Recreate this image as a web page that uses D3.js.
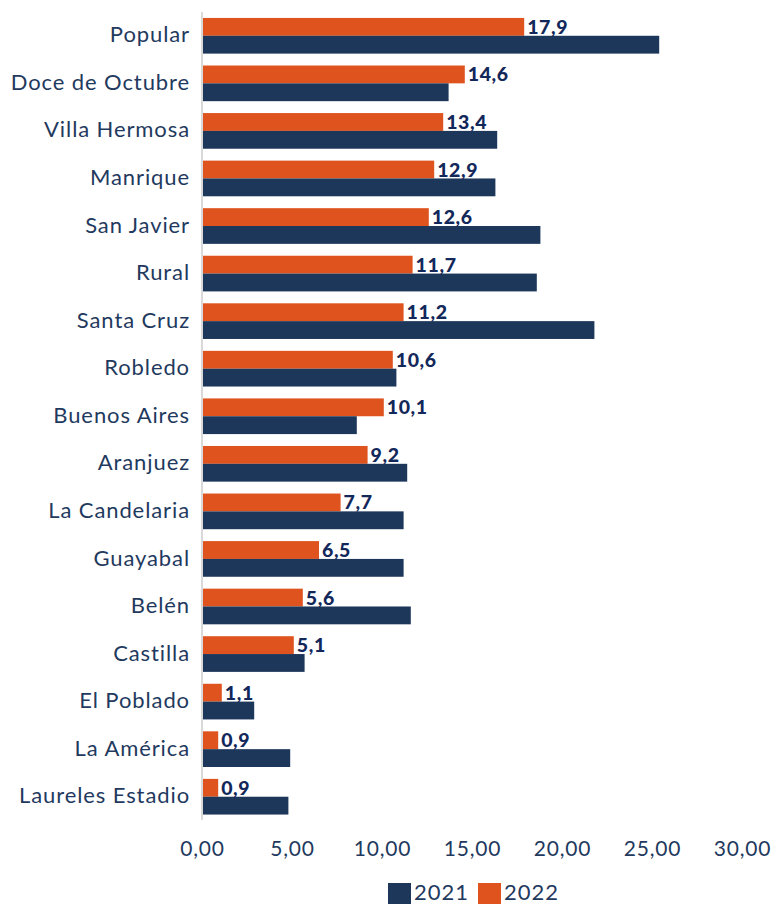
<!DOCTYPE html>
<html>
<head>
<meta charset="utf-8">
<script src="https://cdn.jsdelivr.net/npm/d3@7"></script>
<style>
  html, body { margin: 0; padding: 0; background: #fff; }
  svg { display: block; }
</style>
</head>
<body>
<svg id="chart" width="775" height="904"></svg>
<script>
const categories = ["Popular","Doce de Octubre","Villa Hermosa","Manrique","San Javier","Rural","Santa Cruz","Robledo","Buenos Aires","Aranjuez","La Candelaria","Guayabal","Belén","Castilla","El Poblado","La América","Laureles Estadio"];
const values2022 = [17.9,14.6,13.4,12.9,12.6,11.7,11.2,10.6,10.1,9.2,7.7,6.5,5.6,5.1,1.1,0.9,0.9];
const values2021 = [25.4,13.7,16.4,16.3,18.8,18.6,21.8,10.8,8.6,11.4,11.2,11.2,11.6,5.7,2.9,4.9,4.8];
const xTicks = [0,5,10,15,20,25,30];
const seriesNames = ["2021","2022"];

const colors = {"2021": "#1D375B", "2022": "#DF541E"};
const textColor = "#1F3A5E";
const labelColor = "#13285A";
const font = "Lato, 'Noto Sans', sans-serif";

const svg = d3.select("#chart");

const x = d3.scaleLinear().domain([0, 30]).range([202, 742]);
const y = d3.scaleBand().domain(categories).range([12, 820.5]).paddingInner(0.25).paddingOuter(0.125);
const sub = d3.scaleBand().domain(["2022","2021"]).range([0, y.bandwidth()]).padding(0);

const rows = categories.map((c, i) => ({cat: c, v2021: values2021[i], v2022: values2022[i]}));

// bars
const g = svg.append("g");
const rowG = g.selectAll("g.row").data(rows).join("g")
  .attr("class", "row")
  .attr("transform", d => `translate(0,${y(d.cat)})`);

rowG.append("rect")
  .attr("x", x(0))
  .attr("y", sub("2022"))
  .attr("width", d => x(d.v2022) - x(0))
  .attr("height", sub.bandwidth())
  .attr("fill", colors["2022"]);

rowG.append("rect")
  .attr("x", x(0))
  .attr("y", sub("2021"))
  .attr("width", d => x(d.v2021) - x(0))
  .attr("height", sub.bandwidth())
  .attr("fill", colors["2021"]);

// data labels for 2022
const fmt = d3.format(".1f");
rowG.append("text")
  .attr("x", d => x(d.v2022) + 3)
  .attr("y", sub("2022") + sub.bandwidth() / 2)
  .attr("dy", "0.36em")
  .attr("font-family", font)
  .attr("font-weight", 900)
  .attr("font-size", 19.5)
  .attr("letter-spacing", 0.6)
  .attr("fill", labelColor)
  .text(d => fmt(d.v2022).replace(".", ","));

// category labels
svg.append("g").selectAll("text").data(categories).join("text")
  .attr("x", 190)
  .attr("y", d => y(d) + y.bandwidth() / 2)
  .attr("dy", "0.3em")
  .attr("text-anchor", "end")
  .attr("font-family", font)
  .attr("font-size", 22)
  .attr("letter-spacing", 0.9)
  .attr("fill", textColor)
  .text(d => d);

// axis line (vertical at 0)
svg.append("line")
  .attr("x1", x(0)).attr("x2", x(0))
  .attr("y1", 12).attr("y2", 820)
  .attr("stroke", "#D9D9D9")
  .attr("stroke-width", 2);

// x axis
const xAxis = d3.axisBottom(x).tickValues(xTicks).tickSize(0).tickPadding(0)
  .tickFormat(d => d3.format(".2f")(d).replace(".", ","));
const ax = svg.append("g").attr("transform", "translate(0,841)").call(xAxis);
ax.select(".domain").remove();
ax.selectAll("text")
  .attr("font-family", font)
  .attr("font-size", 21)
  .attr("letter-spacing", 0.8)
  .attr("fill", textColor)
  .attr("dy", "0.71em");

// legend
const legend = svg.append("g");
const lx = {"2021": 388, "2022": 478};
seriesNames.forEach(s => {
  legend.append("rect")
    .attr("x", lx[s]).attr("y", 883)
    .attr("width", 23).attr("height", 23)
    .attr("fill", colors[s]);
  legend.append("text")
    .attr("x", lx[s] + 26).attr("y", 900)
    .attr("font-family", font)
    .attr("font-size", 22)
    .attr("letter-spacing", 1)
    .attr("fill", textColor)
    .text(s);
});
</script>
</body>
</html>
